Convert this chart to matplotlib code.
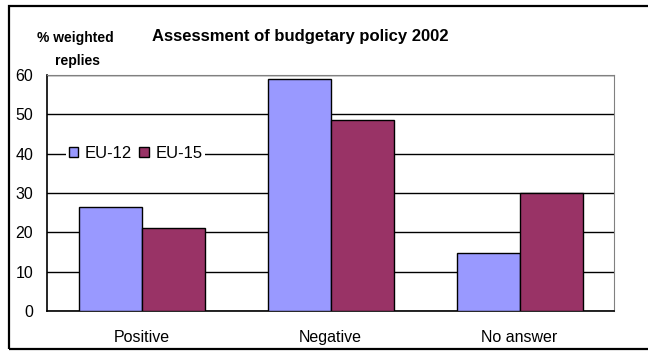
import numpy as np
import matplotlib.pyplot as plt
from matplotlib.patches import Rectangle

# Data
categories = ['Positive', 'Negative', 'No answer']
eu12 = [26.4, 59.1, 14.8]
eu15 = [21.1, 48.6, 30.1]
series_names = ['EU-12', 'EU-15']
yticks = [0, 10, 20, 30, 40, 50, 60]

plt.rcParams['font.family'] = ['Liberation Sans', 'DejaVu Sans']

fig = plt.figure(figsize=(6.48, 3.51), dpi=100)
ax = fig.add_axes([47 / 648, 1 - 311 / 351, (614 - 47) / 648, (311 - 75) / 351])

# Outer chart frame (runs off the right edge like the reference)
fig.patches.append(Rectangle((9 / 648, 2 / 351), 700 / 648, 343 / 351,
                             transform=fig.transFigure, fill=False,
                             edgecolor='black', linewidth=1.6, clip_on=False))

x = np.arange(len(categories))
w = 1 / 3
ax.bar(x - w / 2, eu12, w, color='#9999ff', edgecolor='black', linewidth=1,
       label=series_names[0], zorder=3)
ax.bar(x + w / 2, eu15, w, color='#993366', edgecolor='black', linewidth=1,
       label=series_names[1], zorder=3)

ax.set_xlim(-0.5, 2.5)
ax.set_ylim(0, 60)
ax.set_yticks(yticks)
ax.set_xticks(x)
ax.set_xticklabels(categories, fontsize=11.5)
ax.tick_params(axis='y', length=0, labelsize=11.5, pad=10)
ax.tick_params(axis='x', length=0, pad=14)
ax.yaxis.grid(True, color='black', linewidth=1)
ax.set_axisbelow(True)

for side in ['top', 'right']:
    ax.spines[side].set_color('#808080')
for side in ['left', 'bottom']:
    ax.spines[side].set_color('black')
    ax.spines[side].set_linewidth(1.2)

leg = ax.legend(loc='center left', bbox_to_anchor=(0.034, 40 / 60), ncol=2,
                frameon=True, fontsize=12, handlelength=0.55, handleheight=0.55,
                handletextpad=0.4, columnspacing=0.45, borderpad=0.15,
                borderaxespad=0)
leg.get_frame().set_edgecolor('none')
leg.get_frame().set_facecolor('white')
leg.get_frame().set_alpha(1)
leg.set_zorder(5)

fig.text(300 / 648, 1 - 37 / 351, 'Assessment of budgetary policy 2002',
         ha='center', va='center', fontsize=12, fontweight='bold')
fig.text(75 / 648, 1 - 38 / 351, '% weighted', ha='center',
         va='center', fontsize=10, fontweight='bold')
fig.text(77 / 648, 1 - 61 / 351, 'replies', ha='center',
         va='center', fontsize=10, fontweight='bold')

fig.savefig('out.png', dpi=100)
